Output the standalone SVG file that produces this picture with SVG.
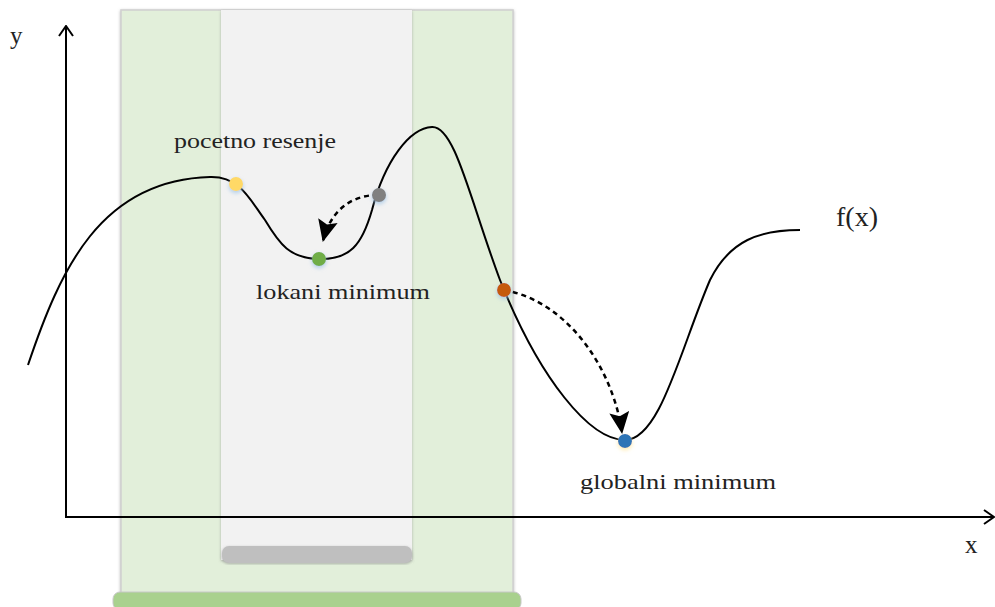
<svg xmlns="http://www.w3.org/2000/svg" width="995" height="607" viewBox="0 0 995 607">
<defs>
<filter id="sh" x="-10%" y="-10%" width="120%" height="120%">
<feDropShadow dx="0" dy="1" stdDeviation="1.5" flood-color="#888" flood-opacity="0.6"/>
</filter>
<filter id="glow" x="-50%" y="-50%" width="200%" height="200%">
<feDropShadow dx="0" dy="2" stdDeviation="2" flood-color="#9dc3e6" flood-opacity="0.8"/>
</filter>
<filter id="glowy" x="-50%" y="-50%" width="200%" height="200%">
<feDropShadow dx="0" dy="2" stdDeviation="2" flood-color="#ffe699" flood-opacity="0.8"/>
</filter>
<marker id="ah" viewBox="0 0 22 20" refX="21" refY="10" markerWidth="22" markerHeight="20" markerUnits="userSpaceOnUse" orient="auto">
<path d="M0,0 L22,10 L0,20 L4,10 Z" fill="#000"/>
</marker>
<marker id="open" viewBox="0 0 12 16" refX="11" refY="8" markerWidth="12" markerHeight="16" markerUnits="userSpaceOnUse" orient="auto">
<path d="M1,1 L11,8 L1,15" fill="none" stroke="#000" stroke-width="2"/>
</marker>
</defs>
<style>
.t{font-family:"Liberation Serif","DejaVu Serif",serif;fill:#222}
.lbl{font-size:22px}
.ax{stroke:#000;stroke-width:2;fill:none}
.dash{stroke:#000;stroke-width:2.5;fill:none;stroke-dasharray:5,4}
</style>
<rect width="995" height="607" fill="#fff"/>
<g id="outer-panel">
<rect x="121" y="10" width="392" height="592" fill="#e2efda" stroke="#d0d0d0" stroke-width="1.5" filter="url(#sh)"/>
<rect x="113" y="592" width="408" height="18" rx="7" fill="#a9d18e" stroke="#c8c8c8" stroke-width="1"/>
</g>
<g id="inner-panel">
<rect x="221" y="10" width="191" height="550" fill="#f2f2f2" filter="url(#sh)"/>
<rect x="222" y="546" width="190" height="17" rx="7" fill="#bfbfbf" filter="url(#sh)"/>
</g>
<g id="axes">
<line class="ax" x1="66" y1="518" x2="66" y2="26" marker-end="url(#open)"/>
<line class="ax" x1="65" y1="517" x2="994" y2="517" marker-end="url(#open)"/>
<text class="t" x="10" y="44" font-size="25">y</text>
<text class="t" x="965" y="553" font-size="25">x</text>
</g>
<g id="curve">
<path d="M28,365 C60,270 100,180 210,177 C240,176 250,200 265,220 C280,245 290,258 318,259 C350,260 362,245 372,210 C385,160 410,128 432,127 C455,126 470,200 500,280 C540,380 590,440 625,440 C660,440 680,350 710,280 C730,240 760,230 800,230" fill="none" stroke="#000" stroke-width="2"/>
<text class="t" x="836" y="226" font-size="28">f(x)</text>
</g>
<g id="connectors">
<path class="dash" d="M378,195 C350,195 330,212 323,241" marker-end="url(#ah)"/>
<path class="dash" d="M504,290 C570,302 614,372 622,433" marker-end="url(#ah)"/>
</g>
<g id="start-point">
<circle cx="236" cy="184" r="7" fill="#ffd966" filter="url(#glow)"/>
<text class="t lbl" x="174" y="148" textLength="162" lengthAdjust="spacingAndGlyphs">pocetno resenje</text>
</g>
<g id="local-min">
<circle cx="319" cy="259" r="7" fill="#70ad47" filter="url(#glow)"/>
<text class="t lbl" x="256" y="299" textLength="174" lengthAdjust="spacingAndGlyphs">lokani minimum</text>
</g>
<g id="gray-point">
<circle cx="379" cy="195" r="7" fill="#808080" filter="url(#glow)"/>
</g>
<g id="orange-point">
<circle cx="504" cy="290" r="7" fill="#c55a11" filter="url(#glow)"/>
</g>
<g id="global-min">
<circle cx="625" cy="441" r="7" fill="#2e75b6" filter="url(#glowy)"/>
<text class="t lbl" x="580" y="489" textLength="196" lengthAdjust="spacingAndGlyphs">globalni minimum</text>
</g>
</svg>
